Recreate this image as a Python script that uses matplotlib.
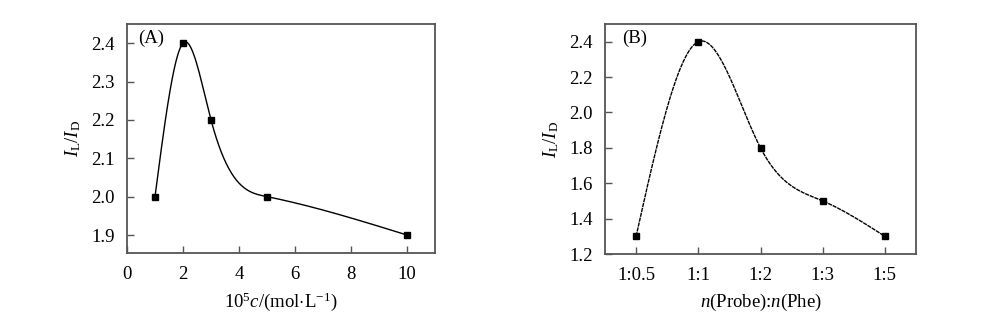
import matplotlib
matplotlib.use("Agg")
import matplotlib.pyplot as plt
import numpy as np

plt.rcParams["font.family"] = ["Liberation Serif", "DejaVu Serif"]
plt.rcParams["mathtext.fontset"] = "custom"
plt.rcParams["mathtext.rm"] = "Liberation Serif"
plt.rcParams["mathtext.it"] = "Liberation Serif:italic"
plt.rcParams["font.size"] = 13.5

# panel A: concentration
conc = [1, 2, 3, 5, 10]
ratio_a = [2.0, 2.4, 2.2, 2.0, 1.9]

# panel B: molar ratio
ratio_labels = ["1:0.5", "1:1", "1:2", "1:3", "1:5"]
ratio_b = [1.3, 2.4, 1.8, 1.5, 1.3]


def natural_spline(x, y, n=400):
    x = np.asarray(x, float)
    y = np.asarray(y, float)
    k = len(x)
    h = np.diff(x)
    A = np.zeros((k, k))
    r = np.zeros(k)
    A[0, 0] = A[-1, -1] = 1
    for i in range(1, k - 1):
        A[i, i - 1] = h[i - 1]
        A[i, i] = 2 * (h[i - 1] + h[i])
        A[i, i + 1] = h[i]
        r[i] = 3 * ((y[i + 1] - y[i]) / h[i] - (y[i] - y[i - 1]) / h[i - 1])
    c = np.linalg.solve(A, r)
    xs = np.linspace(x[0], x[-1], n)
    idx = np.clip(np.searchsorted(x, xs) - 1, 0, k - 2)
    dx = xs - x[idx]
    b = (y[1:] - y[:-1]) / h - h * (2 * c[:-1] + c[1:]) / 3
    d = (c[1:] - c[:-1]) / (3 * h)
    ys = y[idx] + b[idx] * dx + c[idx] * dx ** 2 + d[idx] * dx ** 3
    return xs, ys


def style(ax):
    for s in ax.spines.values():
        s.set_color("#555555")
        s.set_linewidth(1.3)
    ax.tick_params(direction="in", length=5, width=1, color="#555555",
                   top=False, right=False, pad=9)


fig = plt.figure(figsize=(10, 3.24), dpi=100)
ax1 = fig.add_axes([0.127, 0.219, 0.308, 0.707])
ax2 = fig.add_axes([0.605, 0.216, 0.311, 0.710])

xs, ys = natural_spline(conc, ratio_a)
ax1.plot(xs, ys, color="black", lw=1.0)
ax1.plot(conc, ratio_a, "s", color="black", ms=5)
ax1.set_xlim(0, 11)
ax1.set_ylim(1.853, 2.45)
ax1.set_xticks([0, 2, 4, 6, 8, 10])
ax1.set_yticks([1.9, 2.0, 2.1, 2.2, 2.3, 2.4])
ax1.set_xlabel(r"10$^{5}$$c$/(mol$\cdot$L$^{-1}$)", labelpad=6)
ax1.set_ylabel(r"$I_{\mathrm{L}}/I_{\mathrm{D}}$", labelpad=6)
ax1.text(0.037, 0.975, "(A)", transform=ax1.transAxes, va="top", ha="left")
style(ax1)

pos = np.arange(len(ratio_labels))
xs, ys = natural_spline(pos, ratio_b)
ax2.plot(xs, ys, color="black", lw=1.0, ls=(0, (3, 0.6)))
ax2.plot(pos, ratio_b, "s", color="black", ms=5)
ax2.set_xlim(-0.5, 4.5)
ax2.set_ylim(1.2, 2.5)
ax2.set_xticks(pos)
ax2.set_xticklabels(ratio_labels)
ax2.set_yticks([1.2, 1.4, 1.6, 1.8, 2.0, 2.2, 2.4])
ax2.set_xlabel(r"$n$(Probe):$n$(Phe)", labelpad=6)
ax2.set_ylabel(r"$I_{\mathrm{L}}/I_{\mathrm{D}}$", labelpad=6)
ax2.text(0.055, 0.975, "(B)", transform=ax2.transAxes, va="top", ha="left")
style(ax2)

fig.savefig("out.png", dpi=100)
